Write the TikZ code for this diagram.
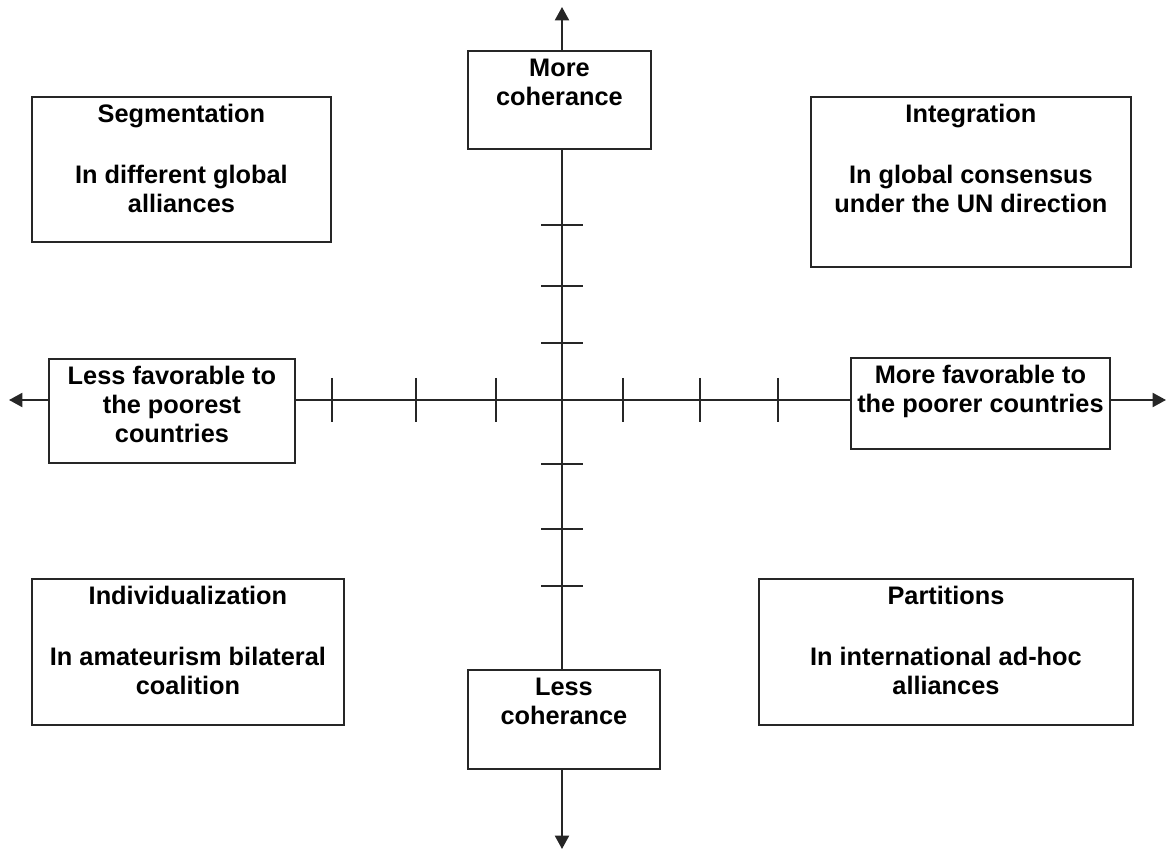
\documentclass[tikz,border=0pt]{standalone}
\usepackage{fontspec}
\setmainfont{Liberation Sans}
\usetikzlibrary{arrows.meta}
\newcommand\qtext[3]{\parbox[t][#2][t]{#1}{\centering\rule{0pt}{19.5pt}#3}}
\tikzset{
  qbox/.style={draw=black!85, line width=1.4pt, fill=white, inner sep=0pt, anchor=north west,
    font=\fontsize{19}{21.75}\selectfont\bfseries},
  axis/.style={draw=black!85, line width=1.5pt},
  axarr/.style={axis, -{Triangle[length=10pt,width=10.5pt]}},
  tick/.style={draw=black!85, line width=1.3pt}
}
\begin{document}
\begin{tikzpicture}[x=0.75pt,y=-0.75pt]
\useasboundingbox (0,0) rectangle (1168,855);
\coordinate (o) at (562,400);
\coordinate (ytop) at (562,7);
\coordinate (ybot) at (562,849);
\coordinate (xleft) at (9,400);
\coordinate (xright) at (1166,400);
% boxes
\node[qbox] (top) at (467,50) {\qtext{137.25pt}{73.5pt}{More\\coherance}};
\node[qbox] (bot) at (467,669) {\qtext{144pt}{74.25pt}{Less\\coherance}};
\node[qbox] (left) at (48,358) {\qtext{184.5pt}{78pt}{Less favorable to\\the poorest\\countries}};
\node[qbox] (right) at (850,357) {\qtext{194.25pt}{68.25pt}{More favorable to\\the poorer countries}};
\node[qbox] (seg) at (31,96) {\qtext{224.25pt}{108.75pt}{Segmentation\\[24pt]In different global\\alliances}};
\node[qbox] (integ) at (810,96) {\qtext{240pt}{127.5pt}{Integration\\[24pt]In global consensus\\under the UN direction}};
\node[qbox] (indiv) at (31,578) {\qtext{234pt}{109.5pt}{Individualization\\[24pt]In amateurism bilateral\\coalition}};
\node[qbox] (part) at (758,578) {\qtext{280.5pt}{109.5pt}{Partitions\\[24pt]In international ad-hoc\\alliances}};
% axes
\draw[axarr] (top.north -| o) -- (ytop);
\draw[axis] (top.south -| o) -- (bot.north -| o);
\draw[axarr] (bot.south -| o) -- (ybot);
\draw[axarr] (left.west |- o) -- (xleft);
\draw[axis] (left.east |- o) -- (right.west |- o);
\draw[axarr] (right.east |- o) -- (xright);
% ticks
\foreach \x in {332,416,496,623,700,778} \draw[tick] (\x,378) -- (\x,422);
\foreach \y in {225,286,343,464,529,586} \draw[tick] (541,\y) -- (583,\y);
\end{tikzpicture}
\end{document}
